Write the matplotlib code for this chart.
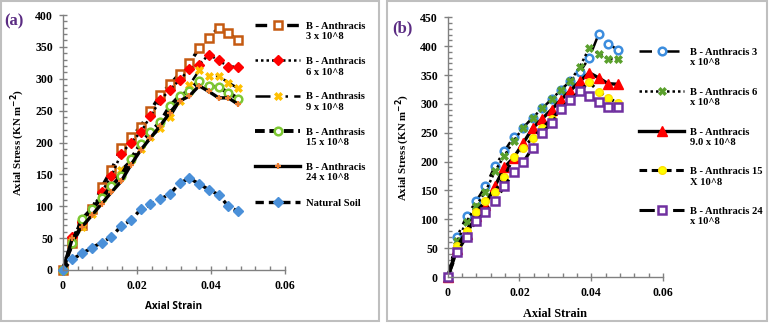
import numpy as np
import matplotlib
matplotlib.use("Agg")
import matplotlib.pyplot as plt
from matplotlib.patches import Rectangle
from matplotlib.ticker import MultipleLocator
from matplotlib.legend_handler import HandlerLine2D

# ---------------- data ----------------
strain = [0.0, 0.00263, 0.00526, 0.00789, 0.01052, 0.01315, 0.01578, 0.01841, 0.02104,
          0.02367, 0.0263, 0.02893, 0.03156, 0.03419, 0.03682, 0.03945, 0.04208, 0.04471, 0.04734]

# panel (a)
a_3e8 = [0, 42, 70, 95, 130, 157, 192, 208, 225, 250, 274, 291, 308, 324, 348, 364, 380, 371, 361]
a_6e8 = [0, 52, 75, 95, 122, 148, 182, 200, 216, 241, 266, 283, 298, 315, 322, 338, 329, 319, 319]
a_9e8 = [0, 45, 68, 88, 115, 130, 157, 172, 190, 208, 222, 240, 265, 290, 313, 304, 304, 294, 285]
a_15e8 = [0, 43, 80, 96, 113, 131, 148, 174, 198, 216, 232, 257, 273, 281, 297, 288, 287, 278, 269]
a_24e8 = [0, 50, 68, 86, 104, 122, 139, 165, 188, 207, 226, 247, 265, 273, 289, 280, 270, 270, 260]
a_soil = [0, 17, 26, 35, 43, 52, 69, 78, 95, 103, 111, 119, 136, 144, 135, 126, 118, 100, 92]

# panel (b)
b_3e8 = [0, 70, 105, 131, 157, 192, 218, 243, 259, 276, 292, 308, 324, 340, 355, 380, 421, 404, 394]
b_6e8 = [0, 62, 96, 123, 148, 183, 210, 236, 259, 276, 292, 308, 324, 340, 364, 397, 387, 378, 377]
b_9e8 = [0, 48, 75, 105, 125, 157, 190, 207, 232, 258, 274, 290, 307, 323, 339, 354, 345, 335, 334]
b_15e8 = [0, 53, 80, 113, 131, 148, 174, 208, 224, 241, 258, 274, 291, 307, 322, 338, 321, 311, 301]
b_24e8 = [0, 43, 70, 97, 113, 131, 157, 182, 199, 224, 250, 266, 291, 307, 322, 313, 303, 294, 294]

a_labels = ["B - Anthracis\n3 x 10^8", "B - Anthracis\n6 x 10^8", "B - Anthrasis\n9 x 10^8",
            "B - Anthrasis\n15 x 10^8", "B - Anthracis\n24 x 10^8", "Natural Soil"]
b_labels = ["B - Anthracis 3\nx 10^8", "B - Anthracis 6\nx 10^8", "B - Anthracis\n9.0 x 10^8",
            "B - Anthracis 15\nX 10^8", "B - Anthracis 24\nx 10^8"]

SERIF = ["Liberation Serif", "DejaVu Serif"]

W, H = 770, 324
fig = plt.figure(figsize=(W / 100, H / 100), dpi=100)

def fx(px):
    return px / W

def fy(py):
    return 1 - py / H

# panel frames
for x0, x1 in [(1, 379), (387, 767)]:
    fig.patches.append(Rectangle((fx(x0), fy(321)), fx(x1) - fx(x0), fy(1) - fy(321),
                                 transform=fig.transFigure, fill=False,
                                 edgecolor="#BFBFBF", linewidth=1.5))

ax_a = fig.add_axes([fx(62.7), fy(270), fx(285) - fx(62.7), fy(15) - fy(270)])
ax_b = fig.add_axes([fx(447.7), fy(277), fx(663) - fx(447.7), fy(17.3) - fy(277)])

a_styles = [
    dict(data=a_3e8, ls=(0, (3.5, 2.5, 1, 2.5)), lw=2.4, marker="s", ms=5.5, mfc="white", mec="#C55A11", mew=1.8),
    dict(data=a_6e8, ls=(0, (1, 1.2)), lw=1.8, marker="D", ms=5, mfc="#FF0000", mec="#FF0000", mew=1),
    dict(data=a_9e8, ls=(0, (6, 2.5, 1, 2.5, 1, 2.5)), lw=1.8, marker="X", ms=6, mfc="#FFC000", mec="#FFC000", mew=0.5),
    dict(data=a_15e8, ls=(0, (2.5, 1.2)), lw=2.8, marker="o", ms=5.5, mfc="white", mec="#7DC832", mew=1.8),
    dict(data=a_24e8, ls="-", lw=2.4, marker="+", ms=4.5, mfc="#ED7D31", mec="#ED7D31", mew=1.6),
    dict(data=a_soil, ls=(0, (2.5, 1.5)), lw=2.4, marker="D", ms=5.5, mfc="#4A90D9", mec="#4A90D9", mew=1),
]
b_styles = [
    dict(data=b_3e8, ls=(0, (5, 2.5, 1, 2.5)), lw=1.8, marker="o", ms=5.5, mfc="white", mec="#3C8DDE", mew=1.8),
    dict(data=b_6e8, ls=(0, (1, 1.2)), lw=1.8, marker="X", ms=6, mfc="#5AA02C", mec="#5AA02C", mew=0.5),
    dict(data=b_9e8, ls="-", lw=2.4, marker="^", ms=6.5, mfc="#FF0000", mec="#FF0000", mew=1),
    dict(data=b_15e8, ls=(0, (2.5, 1.5)), lw=2.2, marker="o", ms=5.5, mfc="#FFFF00", mec="#FFE000", mew=1),
    dict(data=b_24e8, ls=(0, (5, 2.5, 1, 2.5)), lw=2.2, marker="s", ms=5.5, mfc="white", mec="#7030A0", mew=1.8),
]


class UpHandler(HandlerLine2D):
    def create_artists(self, legend, orig_handle, xdescent, ydescent, width, height, fontsize, trans):
        arts = super().create_artists(legend, orig_handle, xdescent, ydescent, width, height, fontsize, trans)
        if "\n" in orig_handle.get_label():
            for a in arts:
                a.set_ydata(np.asarray(a.get_ydata()) + 0.6 * fontsize)
        return arts


def draw(ax, styles, labels, ymax, xlab_family, xlab_size, leg_anchor, leg_spacing, leg_size):
    handles = []
    for st, lab in zip(styles, labels):
        st = dict(st)
        data = st.pop("data")
        h, = ax.plot(strain, data, color="black", label=lab, clip_on=False,
                     linestyle=st["ls"], linewidth=st["lw"], marker=st["marker"],
                     markersize=st["ms"], markerfacecolor=st["mfc"],
                     markeredgecolor=st["mec"], markeredgewidth=st["mew"])
        handles.append(h)
    ax.set_xlim(0, 0.06)
    ax.set_ylim(0, ymax)
    ax.xaxis.set_major_locator(MultipleLocator(0.02))
    ax.xaxis.set_minor_locator(MultipleLocator(0.004))
    ax.yaxis.set_major_locator(MultipleLocator(50))
    ax.yaxis.set_minor_locator(MultipleLocator(10))
    ax.set_xticks([0, 0.02, 0.04, 0.06])
    ax.set_xticklabels(["0", "0.02", "0.04", "0.06"])
    for s in ["top", "right"]:
        ax.spines[s].set_visible(False)
    for s in ["left", "bottom"]:
        ax.spines[s].set_color("#808080")
        ax.spines[s].set_linewidth(1.0)
    ax.tick_params(which="major", direction="inout", length=6, width=1, color="#808080", pad=4)
    ax.tick_params(which="minor", direction="in", length=3, width=1, color="#808080")
    for t in ax.get_xticklabels() + ax.get_yticklabels():
        t.set_fontfamily(SERIF)
        t.set_fontweight("bold")
        t.set_fontsize(8.5)
    ax.set_xlabel("Axial Strain", fontfamily=xlab_family, fontweight="bold", fontsize=xlab_size, labelpad=7)
    ax.set_ylabel("Axial Stress (KN m$^{\\mathbf{-2}}$)", fontfamily=SERIF, fontweight="bold",
                  fontsize=7.8, labelpad=6)
    ax.patch.set_alpha(0)
    leg = ax.legend(handles=handles, loc="upper left", bbox_to_anchor=leg_anchor,
                    bbox_transform=fig.transFigure, frameon=False,
                    prop=dict(family=SERIF, weight="bold", size=leg_size),
                    handlelength=4.3, handletextpad=0.5, labelspacing=leg_spacing,
                    borderpad=0, borderaxespad=0, numpoints=1,
                    handler_map={h: UpHandler() for h in handles})
    return leg


draw(ax_a, a_styles, a_labels, 400, ["Open Sans", "DejaVu Sans"], 7.2, (fx(255), fy(22)), 1.5, 7.6)
draw(ax_b, b_styles, b_labels, 450, SERIF, 8.8, (fx(639), fy(48)), 1.93, 7.6)

fig.text(fx(4), fy(21), "(a)", fontfamily=SERIF, fontweight="bold", fontsize=12,
         color="#5B2C83", va="center", ha="left")
fig.text(fx(392), fy(28), "(b)", fontfamily=SERIF, fontweight="bold", fontsize=12,
         color="#5B2C83", va="center", ha="left")

fig.savefig("out.png", dpi=100)
